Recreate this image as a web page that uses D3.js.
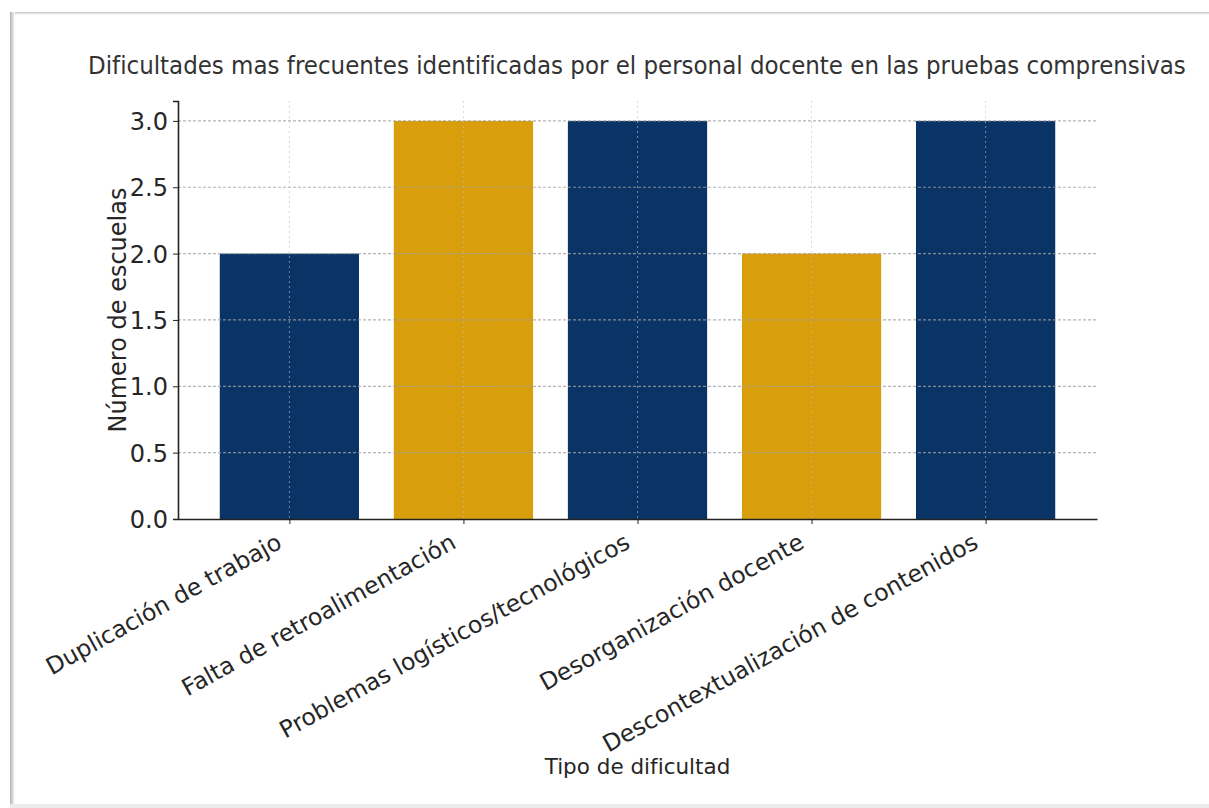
<!DOCTYPE html>
<html lang="es">
<head>
<meta charset="utf-8">
<script src="https://cdn.jsdelivr.net/npm/d3@7"></script>
<style>
  html, body { margin: 0; padding: 0; background: #ffffff; }
  svg { display: block; }
  text { font-family: "DejaVu Sans", sans-serif; }
</style>
</head>
<body>
<svg id="chart" width="1209" height="808"></svg>
<script>
// Data
const categories = [
  "Duplicación de trabajo",
  "Falta de retroalimentación",
  "Problemas logísticos/tecnológicos",
  "Desorganización docente",
  "Descontextualización de contenidos"
];
const values = [2, 3, 3, 2, 3];
const barColors = ["#0a3466", "#d99e0b", "#0a3466", "#d99e0b", "#0a3466"];
const yTicks = [0, 0.5, 1.0, 1.5, 2.0, 2.5, 3.0];
const titleText = "Dificultades mas frecuentes identificadas por el personal docente en las pruebas comprensivas";
const xLabel = "Tipo de dificultad";
const yLabel = "Número de escuelas";

const svg = d3.select("#chart");
const W = 1209, H = 808;

// Page frame with soft shadow
const defs = svg.append("defs");
const gradL = defs.append("linearGradient").attr("id", "shadeL").attr("x1", 0).attr("x2", 1);
gradL.append("stop").attr("offset", 0).attr("stop-color", "#b0b0b0");
gradL.append("stop").attr("offset", 1).attr("stop-color", "#ffffff");
const gradT = defs.append("linearGradient").attr("id", "shadeT").attr("x1", 0).attr("x2", 0).attr("y1", 0).attr("y2", 1);
gradT.append("stop").attr("offset", 0).attr("stop-color", "#c4c4c4");
gradT.append("stop").attr("offset", 1).attr("stop-color", "#ffffff");

svg.append("rect").attr("x", 10).attr("y", 12).attr("width", W - 10).attr("height", 3).attr("fill", "url(#shadeT)");
svg.append("rect").attr("x", 10).attr("y", 12).attr("width", 5).attr("height", 792).attr("fill", "url(#shadeL)");
svg.append("rect").attr("x", 10).attr("y", 804).attr("width", W - 10).attr("height", 4).attr("fill", "#ececec");

// Plot area
const plotLeft = 178, plotRight = 1097, plotTop = 101, plotBottom = 519;

const x = d3.scaleLinear().domain([-0.64, categories.length - 1 + 0.64]).range([plotLeft, plotRight]);
const step = x(1) - x(0);
const barW = step * 0.8;
const y = d3.scaleLinear().domain([0, 3.15]).range([plotBottom, plotTop]);

// Bars
svg.append("g").selectAll("rect")
  .data(values)
  .join("rect")
  .attr("x", (d, i) => x(i) - barW / 2)
  .attr("y", d => y(d))
  .attr("width", barW)
  .attr("height", d => y(0) - y(d))
  .attr("fill", (d, i) => barColors[i]);

// Grid drawn over the bars
const grid = svg.append("g");
grid.selectAll("line.h")
  .data(yTicks.filter(t => t > 0))
  .join("line")
  .attr("class", "h")
  .attr("x1", plotLeft).attr("x2", plotRight)
  .attr("y1", d => y(d)).attr("y2", d => y(d))
  .attr("stroke", "rgba(160,160,160,0.8)")
  .attr("stroke-width", 1.2)
  .attr("stroke-dasharray", "3,2");
grid.selectAll("line.v")
  .data(categories.map((c, i) => i))
  .join("line")
  .attr("class", "v")
  .attr("x1", d => x(d)).attr("x2", d => x(d))
  .attr("y1", plotTop).attr("y2", plotBottom)
  .attr("stroke", "rgba(190,190,190,0.6)")
  .attr("stroke-width", 1)
  .attr("stroke-dasharray", "2,3");

// Y axis
const yAxis = d3.axisLeft(y).tickValues(yTicks).tickFormat(d3.format(".1f")).tickSize(5).tickPadding(5);
const gy = svg.append("g").attr("transform", `translate(${plotLeft},0)`).call(yAxis);
gy.select(".domain").attr("stroke", "#222").attr("stroke-width", 1.6);
gy.selectAll(".tick line").attr("stroke", "#222");
gy.selectAll(".tick text")
  .attr("fill", "#262626")
  .style("font-size", "24px")
  .style("font-family", "'DejaVu Sans', sans-serif")
  .attr("dy", "0.35em");

// X axis
const xAxis = d3.axisBottom(x).tickValues(categories.map((c, i) => i)).tickFormat("").tickSize(5).tickSizeOuter(0);
const gx = svg.append("g").attr("transform", `translate(0,${plotBottom})`).call(xAxis);
gx.select(".domain").attr("stroke", "#222").attr("stroke-width", 1.6);
gx.selectAll(".tick line").attr("stroke", "#222");

// Rotated category labels
svg.append("g").selectAll("text")
  .data(categories)
  .join("text")
  .attr("transform", (d, i) => `translate(${x(i) - 6},${plotBottom + 28}) rotate(-29)`)
  .attr("text-anchor", "end")
  .attr("fill", "#262626")
  .style("font-size", "23.5px")
  .text(d => d);

// Axis titles
svg.append("text")
  .attr("transform", `translate(126,${(plotTop + plotBottom) / 2}) rotate(-90)`)
  .attr("text-anchor", "middle")
  .attr("fill", "#262626")
  .style("font-size", "24px")
  .text(yLabel);

svg.append("text")
  .attr("x", x(2)).attr("y", 774)
  .attr("text-anchor", "middle")
  .attr("fill", "#262626")
  .style("font-size", "21.5px")
  .text(xLabel);

// Title: tall, horizontally condensed lettering
const titleWidth = 1098;
const title = svg.append("text")
  .attr("fill", "#333")
  .style("font-size", "25px")
  .text(titleText);
const natural = title.node().getComputedTextLength();
title.attr("transform", `translate(88,74) scale(${titleWidth / natural},1)`);
</script>
</body>
</html>
